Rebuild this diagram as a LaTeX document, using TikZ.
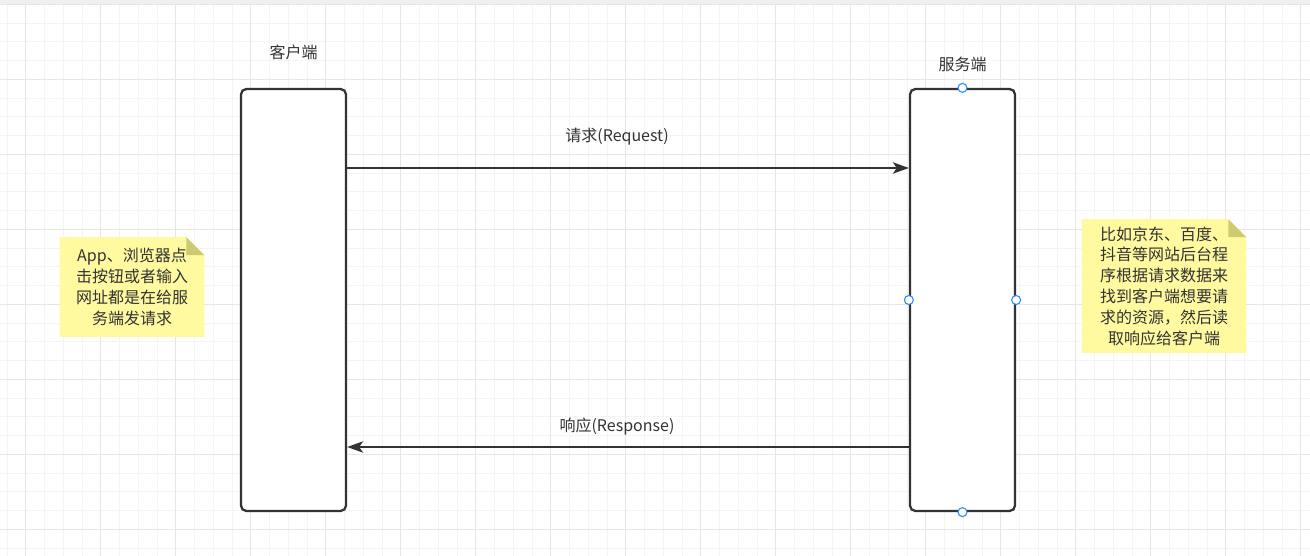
\documentclass[tikz,border=0pt]{standalone}
\usepackage{fontspec}
\setmainfont{Noto Sans CJK SC}
\usetikzlibrary{arrows.meta, positioning, calc, backgrounds}
\definecolor{gridminor}{RGB}{244,244,244}
\definecolor{gridmajor}{RGB}{230,230,230}
\definecolor{linedark}{RGB}{51,51,51}
\definecolor{noteyellow}{RGB}{255,250,160}
\definecolor{notefold}{RGB}{206,202,112}
\definecolor{handleblue}{RGB}{41,137,255}

% yellow paper with folded corner behind a note node
\newcommand{\notepaper}[1]{%
  \fill[noteyellow] (#1.north west) -- ([xshift=-13.5pt]#1.north east) -- ([yshift=-13.5pt]#1.north east) -- (#1.south east) -- (#1.south west) -- cycle;
  \fill[notefold] ([xshift=-13.5pt]#1.north east) -- ([xshift=-13.5pt,yshift=-13.5pt]#1.north east) -- ([yshift=-13.5pt]#1.north east) -- cycle;
}

\begin{document}
\begin{tikzpicture}[
			x=0.75pt, y=-0.75pt,
			lifeline/.style={rectangle, draw=linedark, line width=1.7pt, rounded corners=4pt, fill=white, minimum width=78.75pt, minimum height=316.5pt, inner sep=0pt},
			caption/.style={inner sep=0pt, text=linedark, font=\fontsize{12}{14}\selectfont},
			note/.style={rectangle, inner sep=0pt, align=center, text=linedark, font=\fontsize{12}{15.6}\selectfont},
			handle/.style={circle, draw=handleblue, fill=white, line width=0.8pt, minimum size=6.75pt, inner sep=0pt},
			msg/.style={-{Stealth[length=12pt, width=8.5pt, inset=3pt]}, line width=1.5pt, draw=linedark}
		]
		\useasboundingbox (0,0) rectangle (1310,556);
		\begin{scope}[on background layer]
			\fill[white] (0,0) rectangle (1310,556);
			\foreach \gx in {7,25.75,...,1310} \draw[gridminor, line width=0.75pt] (\gx,0) -- (\gx,556);
			\foreach \gy in {4.3,23.05,...,556} \draw[gridminor, line width=0.75pt] (0,\gy) -- (1310,\gy);
			\foreach \gx in {25.75,100.75,...,1310} \draw[gridmajor, line width=0.75pt] (\gx,0) -- (\gx,556);
			\foreach \gy in {4.3,79.3,...,556} \draw[gridmajor, line width=0.75pt] (0,\gy) -- (1310,\gy);
			\fill[black!6] (0,0) rectangle (1310,4);
		\end{scope}
		
		\node[lifeline] (client) at (293.5,300) {};
		\node[lifeline] (server) at (962.5,300) {};
		\node[caption] (clientlbl) at ($(client.north)+(0,-35)$) {客户端};
		\node[caption] (serverlbl) at ($(server.north)+(0,-23)$) {服务端};
		
		\draw[msg] (client.east |- 0,168) -- (server.west |- 0,168);
		\draw[msg] (server.west |- 0,447) -- (client.east |- 0,447);
		\node[caption] (reqlbl) at (617,137) {请求(Request)};
		\node[caption] (resplbl) at (617,427) {响应(Response)};
		
		\node[handle] (hn) at (server.north) {};
		\node[handle] (hs) at (server.south) {};
		\node[handle] (hw) at (server.west) {};
		\node[handle] (he) at (server.east) {};
		
		\node[note, minimum width=108pt, minimum height=74.25pt] (webnote) at (132,287) {App、浏览器点\\击按钮或者输入\\网址都是在给服\\务端发请求};
		\node[note, minimum width=123pt, minimum height=99.75pt] (srvnote) at (1164,286) {比如京东、百度、\\抖音等网站后台程\\序根据请求数据来\\找到客户端想要请\\求的资源，然后读\\取响应给客户端};
		\begin{scope}[on background layer]
			\notepaper{webnote}
			\notepaper{srvnote}
		\end{scope}
		\end{tikzpicture}
\end{document}
